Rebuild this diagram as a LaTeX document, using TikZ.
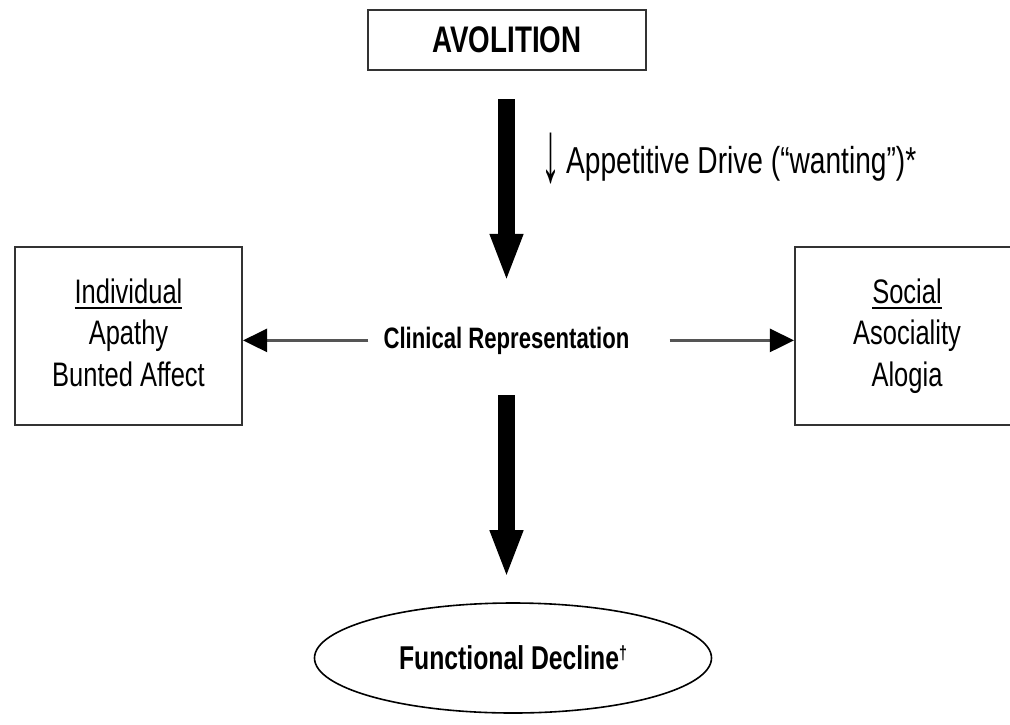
\documentclass[tikz,border=0pt]{standalone}
\usepackage{fontspec}
\setmainfont{Liberation Sans}[FakeStretch=0.75]
\usetikzlibrary{arrows.meta,shapes.geometric}
\newsavebox\ulbox
\newcommand\myul[1]{\sbox\ulbox{#1}\leavevmode\rlap{\rule[-6pt]{\wd\ulbox}{2pt}}\usebox\ulbox}
\definecolor{edge}{HTML}{333333}
\definecolor{thinline}{HTML}{555555}
\tikzset{
  boxnode/.style={draw=edge, line width=2.2pt, align=center, inner sep=0pt},
  boxtext/.style={font=\fontsize{34}{41.5}\selectfont},
  bigarrow/.style={line width=17pt, -{Triangle[width=30pt,length=48pt]}},
  thinarrow/.style={draw=thinline, line width=3pt, -{Triangle[width=23pt,length=24pt,fill=black,color=black]}},
}
\begin{document}
\begin{tikzpicture}[x=1pt,y=-1pt]
\fill[white] (0,0) rectangle (1010,724);
\useasboundingbox (0,0) rectangle (1010,724);
\clip (0,0) rectangle (1010,724);

\node[boxnode, minimum width=278pt, minimum height=60pt, font=\bfseries\fontsize{37}{42}\selectfont] (avol) at (507,40) {AVOLITION};

\node[font=\fontsize{37.5}{44}\selectfont, anchor=base west, inner sep=0pt] (app) at (541,173) {\raisebox{-8pt}{\scalebox{1.35}[2.3]{↓}}\hspace{6pt}Appetitive Drive (“wanting”)*};

\node[boxnode, boxtext, minimum width=227pt, minimum height=178pt] (ind) at (128.5,336) {\myul{Individual}\\Apathy\\Bunted Affect\vphantom{g}};

\node[boxnode, boxtext, minimum width=224pt, minimum height=178pt] (soc) at (907,336) {\myul{Social}\\Asociality\\Alogia};

\node[font=\bfseries\fontsize{29.5}{34}\selectfont, inner sep=0pt, anchor=base] (clin) at (506.5,348) {Clinical Representation};

\node[draw=black, line width=1.6pt, ellipse, minimum width=397pt, minimum height=110pt, inner sep=0pt, font=\bfseries\fontsize{33}{38}\selectfont] (fd) at (513,658) {Functional Decline\smash{\raisebox{10pt}{\fontsize{19}{19}\selectfont †}}};

\draw[bigarrow, shorten <=28pt, shorten >=44.5pt] (clin.north |- avol.south) -- (clin.north);
\draw[bigarrow, shorten <=41pt, shorten >=24pt] (clin.south) -- (clin.south |- fd.north);

\draw[thinarrow, shorten <=15pt] (clin.west) -- (clin.west -| ind.east);
\draw[thinarrow, shorten <=40pt] (clin.east) -- (clin.east -| soc.west);
\end{tikzpicture}
\end{document}
